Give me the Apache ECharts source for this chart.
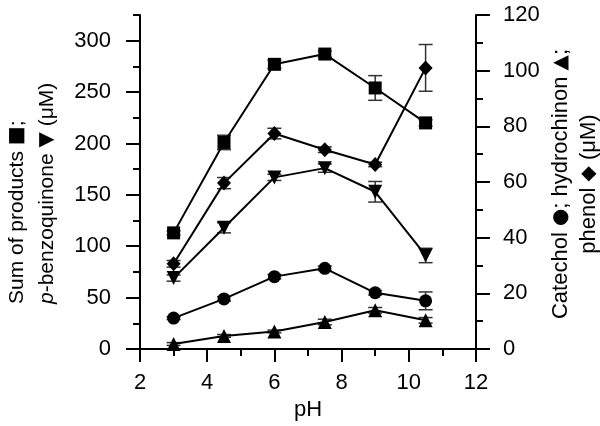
<!DOCTYPE html>
<html>
<head>
<meta charset="utf-8">
<script src="https://cdn.jsdelivr.net/npm/echarts@6/dist/echarts.min.js"></script>
<style>html,body{margin:0;padding:0;background:#fff}#c{width:600px;height:426px}</style>
</head>
<body>
<div id="c"></div>
<script>
// ---- data ----
const ph = [3, 4.5, 6, 7.5, 9, 10.5];
const sumProducts = [113, 201, 277, 287, 254, 220];
const sumProductsErr = [2, 7, 4, 3, 12, 3];
const benzoquinone = [69, 118, 167, 176, 153, 91];
const benzoquinoneErr = [3, 5, 3, 4, 10, 7];
const phenol = [30.6, 59.6, 77.4, 71.6, 66.3, 101];
const phenolErr = [1.2, 2, 1.9, 1, 0.8, 8.4];
const catechol = [11.1, 18, 26, 29, 20.2, 17.3];
const catecholErr = [0.5, 0.8, 0.8, 0.8, 0.8, 3.2];
const hydrochinon = [1.8, 4.7, 6.3, 9.7, 13.9, 10.3];
const hydrochinonErr = [0.5, 0.5, 0.5, 1, 1, 1];
const leftMajorTicks = [0, 50, 100, 150, 200, 250, 300];
const leftMinorTicks = [25, 75, 125, 175, 225, 275, 325];

const FONT = 'Liberation Sans, Arial, sans-serif';
const SYMFONT = 'DejaVu Sans, sans-serif';
const chart = echarts.init(document.getElementById('c'), null, {renderer: 'canvas'});

function pts(v) { return ph.map((x, i) => [x, v[i]]); }
function errPts(v, e) { return ph.map((x, i) => [x, v[i], e[i]]); }

function errSeries(v, e, yIdx) {
  return {
    type: 'custom', xAxisIndex: 0, yAxisIndex: yIdx, z: 1, silent: true,
    data: errPts(v, e), encode: {x: 0, y: 1},
    renderItem: function (params, api) {
      const x = api.value(0), y = api.value(1), er = api.value(2);
      const t = api.coord([x, y + er]);
      const b = api.coord([x, y - er]);
      const w = 7;
      const st = {stroke: '#333', lineWidth: 1.5};
      return {type: 'group', children: [
        {type: 'line', shape: {x1: t[0], y1: t[1], x2: b[0], y2: b[1]}, style: st},
        {type: 'line', shape: {x1: t[0] - w, y1: t[1], x2: t[0] + w, y2: t[1]}, style: st},
        {type: 'line', shape: {x1: b[0] - w, y1: b[1], x2: b[0] + w, y2: b[1]}, style: st}
      ]};
    }
  };
}

function lineSeries(v, yIdx, symbol, size, rot) {
  return {
    type: 'line', xAxisIndex: 0, yAxisIndex: yIdx, z: 3,
    data: pts(v), symbol: symbol, symbolSize: size, symbolRotate: rot || 0,
    showAllSymbol: true,
    lineStyle: {color: '#000', width: 2},
    itemStyle: {color: '#000', borderWidth: 0},
    emphasis: {disabled: true}, animation: false
  };
}

const axisLineStyle = {color: '#000', width: 2};
const labelStyle = {color: '#000', fontSize: 22, fontFamily: FONT};

const option = {
  animation: false,
  grid: {left: 140, right: 124, top: 15, bottom: 76, containLabel: false},
  xAxis: [{
    type: 'value', min: 2, max: 12, interval: 2,
    axisLine: {show: true, onZero: false, lineStyle: axisLineStyle},
    axisTick: {show: true, length: 13, lineStyle: {color: '#000', width: 2}},
    minorTick: {show: true, splitNumber: 2, length: 7, lineStyle: {color: '#000', width: 2}},
    axisLabel: Object.assign({margin: 23}, labelStyle),
    splitLine: {show: false},
    name: 'pH', nameLocation: 'middle', nameGap: 50,
    nameTextStyle: {color: '#000', fontSize: 22, fontFamily: FONT}
  }],
  yAxis: [{
    type: 'value', position: 'left', min: 0, max: 325,
    axisLine: {show: true, lineStyle: axisLineStyle},
    axisTick: {show: true, length: 14, customValues: leftMajorTicks, lineStyle: {color: '#000', width: 2}},
    axisLabel: Object.assign({margin: 29, customValues: leftMajorTicks}, labelStyle),
    splitLine: {show: false}
  }, {
    type: 'value', position: 'right', min: 0, max: 120, interval: 20,
    axisLine: {show: true, lineStyle: axisLineStyle},
    axisTick: {show: true, length: 14, lineStyle: {color: '#000', width: 2}},
    minorTick: {show: true, splitNumber: 2, length: 7, lineStyle: {color: '#000', width: 2}},
    axisLabel: Object.assign({margin: 27}, labelStyle),
    splitLine: {show: false}
  }, {
    type: 'value', position: 'left', min: 0, max: 325,
    axisLine: {show: false},
    axisTick: {show: true, length: 7, customValues: leftMinorTicks, lineStyle: {color: '#000', width: 2}},
    axisLabel: {show: false},
    splitLine: {show: false}
  }],
  graphic: [{
    type: 'text', x: 2, y: 304, rotation: Math.PI / 2,
    style: {
      text: '{n|Sum of products }{s|■}{n|;}\n{i|p}{n|-benzoquinone }{s|▼}{n| (μM)}',
      align: 'left', verticalAlign: 'top',
      fill: '#000',
      rich: {
        n: {fontSize: 21, fontFamily: FONT, lineHeight: 30, fill: '#000'},
        i: {fontSize: 21, fontFamily: FONT, fontStyle: 'italic', lineHeight: 30, fill: '#000'},
        s: {fontSize: 20, fontFamily: SYMFONT, lineHeight: 30, fill: '#000'}
      }
    }
  }, {
    type: 'text', x: 547, y: 184, rotation: Math.PI / 2,
    style: {
      text: '{n|Catechol }{s|●}{n|; hydrochinon }{s|▲}{n|;}\n{n|phenol }{s|◆}{n| (μM)}',
      align: 'center', verticalAlign: 'top',
      fill: '#000',
      rich: {
        n: {fontSize: 22, fontFamily: FONT, lineHeight: 28, fill: '#000'},
        s: {fontSize: 20, fontFamily: SYMFONT, lineHeight: 28, fill: '#000'}
      }
    }
  }],
  series: [
    errSeries(sumProducts, sumProductsErr, 0),
    errSeries(benzoquinone, benzoquinoneErr, 0),
    errSeries(phenol, phenolErr, 1),
    errSeries(catechol, catecholErr, 1),
    errSeries(hydrochinon, hydrochinonErr, 1),
    lineSeries(sumProducts, 0, 'rect', 13),
    lineSeries(benzoquinone, 0, 'triangle', 14, 180),
    lineSeries(phenol, 1, 'diamond', [14, 15]),
    lineSeries(catechol, 1, 'circle', 13),
    lineSeries(hydrochinon, 1, 'triangle', 14)
  ]
};
chart.setOption(option);
</script>
</body>
</html>
